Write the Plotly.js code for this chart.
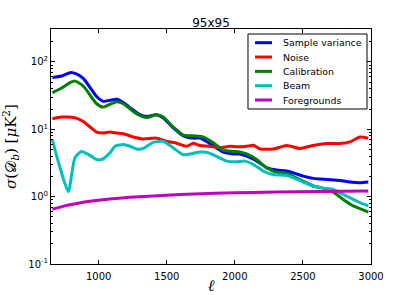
<!DOCTYPE html>
<html><head><meta charset="utf-8">
<script src="https://cdn.plot.ly/plotly-3.0.1.min.js"></script>
<style>html,body{margin:0;padding:0;background:#fff}#c{width:413px;height:295px}</style>
</head><body><div id="c"></div>
<script>
const titleText = "95x95";
const seriesNames = ["Sample variance","Noise","Calibration","Beam","Foregrounds"];
const seriesColors = ["#0000ff","#ff0000","#008000","#00bfbf","#bf00bf"];

const svEll = [660,728,790,840,887,985,1034,1083,1132,1181,1230,1303,1352,1426,1475,1548,1622,1695,1744,1793,1866,1915,1989,2037,2087,2160,2233,2307,2380,2429,2502,2576,2674,2772,2845,2919,2980];
const svVal = [59,62,69.5,66,57,30.7,26,27,28,25,21,16.5,15.5,16.5,14.7,10.5,8,7.4,7.4,6.6,5.3,4.57,4.3,4.3,4.0,3.4,2.7,2.48,2.4,2.26,2.02,1.87,1.8,1.74,1.65,1.61,1.65];

const noEll = [660,728,826,887,985,1034,1083,1132,1181,1254,1328,1426,1499,1573,1646,1695,1744,1817,1891,1964,2013,2087,2136,2185,2282,2380,2478,2576,2674,2772,2845,2919,2980];
const noVal = [14.4,15.2,14.9,13.1,9.1,8.8,9.1,8.8,8.6,7.7,7.2,7.4,6.65,6.2,5.6,6.2,5.75,5.6,5.35,5.6,5.5,5.6,5.8,5.1,5.1,5.75,5.2,5.75,6.15,6.15,6.5,7.7,7.4];

const caEll = [660,728,790,826,887,985,1034,1083,1132,1181,1279,1352,1426,1475,1548,1622,1695,1768,1842,1915,1989,2037,2087,2160,2233,2307,2380,2429,2502,2576,2650,2723,2796,2870,2919,2980];
const caVal = [35,41,49.5,52,44,24,21.4,23.5,25.7,24,17,15,16.5,15.2,10.8,8.2,8,7.7,6.3,4.9,4.7,4.6,4.3,3.56,2.68,2.3,2.24,2.0,1.7,1.44,1.33,1.17,0.91,0.73,0.665,0.59];

const beEll = [660,716,777,826,875,936,985,1022,1083,1120,1181,1230,1279,1328,1401,1475,1548,1622,1695,1744,1793,1866,1940,2013,2074,2136,2209,2282,2380,2429,2502,2576,2650,2723,2796,2870,2919,2980];
const beVal = [7,2.7,1.19,3.8,4.7,4.1,3.56,3.56,4.47,5.6,5.95,5.6,5.1,5.2,6.4,6.6,5.3,4.2,4.4,4.6,4.57,3.98,3.37,3.3,3.37,3.0,2.4,2.14,2.07,1.9,1.65,1.44,1.34,1.28,1.08,0.91,0.815,0.73];

const fgEll = [660,750,850,950,1050,1150,1300,1500,1700,2000,2300,2600,2980];
const fgVal = [0.65,0.73,0.80,0.86,0.91,0.95,1.0,1.05,1.1,1.14,1.17,1.19,1.21];

const xs = [svEll,noEll,caEll,beEll,fgEll];
const ys = [svVal,noVal,caVal,beVal,fgVal];
const traces = seriesNames.map((n,i)=>({
  x: xs[i], y: ys[i], name: n, type:'scatter', mode:'lines', showlegend:false,
  line:{color:seriesColors[i], width:3, shape:'spline', smoothing:0.6}
}));

// legend drawn as shapes + annotations in paper coordinates
const legBox = {x0:0.6156, x1:0.9875, y0:0.6596, y1:0.9787};
const legRowTop = 0.9417, legRowStep = 0.0610;
const shapes = [{type:'rect', xref:'paper', yref:'paper', x0:legBox.x0, x1:legBox.x1, y0:legBox.y0, y1:legBox.y1,
  line:{color:'#000', width:1}, fillcolor:'#fff', layer:'above'}];
const annotations = [];
seriesNames.forEach((n,i)=>{
  const yy = legRowTop - i*legRowStep;
  shapes.push({type:'line', xref:'paper', yref:'paper', x0:0.6375, x1:0.6906, y0:yy, y1:yy,
    line:{color:seriesColors[i], width:3}, layer:'above'});
  annotations.push({xref:'paper', yref:'paper', x:0.71875, y:yy, xanchor:'left', yanchor:'middle', showarrow:false,
    text:n, font:{family:'DejaVu Sans', size:9.4, color:'#000'}});
});

const axFont = {family:'DejaVu Sans', size:10, color:'#000'};
const layout = {
  width:413, height:295,
  margin:{l:51, r:42, t:29, b:31},
  paper_bgcolor:'#fff', plot_bgcolor:'#fff',
  title:{text:titleText, font:{family:'DejaVu Sans', size:12, color:'#000'}, x:0.5, xref:'paper', yref:'paper', y:1, yanchor:'bottom', pad:{b:2}},
  showlegend:false,
  shapes: shapes, annotations: annotations,
  xaxis:{range:[650,3000], showgrid:false, zeroline:false, showline:true, linecolor:'#000', linewidth:1, mirror:'allticks',
    ticks:'inside', ticklen:4, tickcolor:'#000', tickvals:[1000,1500,2000,2500,3000], tickfont:axFont, ticklabelstandoff:3,
    title:{text:'<i>ℓ</i>', font:{family:'DejaVu Serif', size:16, color:'#000'}, standoff:0}},
  yaxis:{type:'log', range:[-1,2.49], showgrid:false, zeroline:false, showline:true, linecolor:'#000', linewidth:1, mirror:'allticks',
    ticks:'inside', ticklen:4, tickcolor:'#000', tickvals:[0.1,1,10,100], ticktext:['10<sup>-1</sup>','10<sup>0</sup>','10<sup>1</sup>','10<sup>2</sup>'], tickfont:axFont,
    minor:{ticks:'inside', ticklen:2, tickcolor:'#000', tickvals:[0.2,0.3,0.4,0.5,0.6,0.7,0.8,0.9,2,3,4,5,6,7,8,9,20,30,40,50,60,70,80,90,200,300]},
    title:{text:'<i>σ</i>(𝒟<sub><i>b</i></sub>) [<i>μ</i>K<sup>2</sup>]', font:{family:'DejaVu Serif', size:15, color:'#000'}, standoff:8}}
};
Plotly.newPlot('c', traces, layout, {staticPlot:true, displayModeBar:false});
</script></body></html>
